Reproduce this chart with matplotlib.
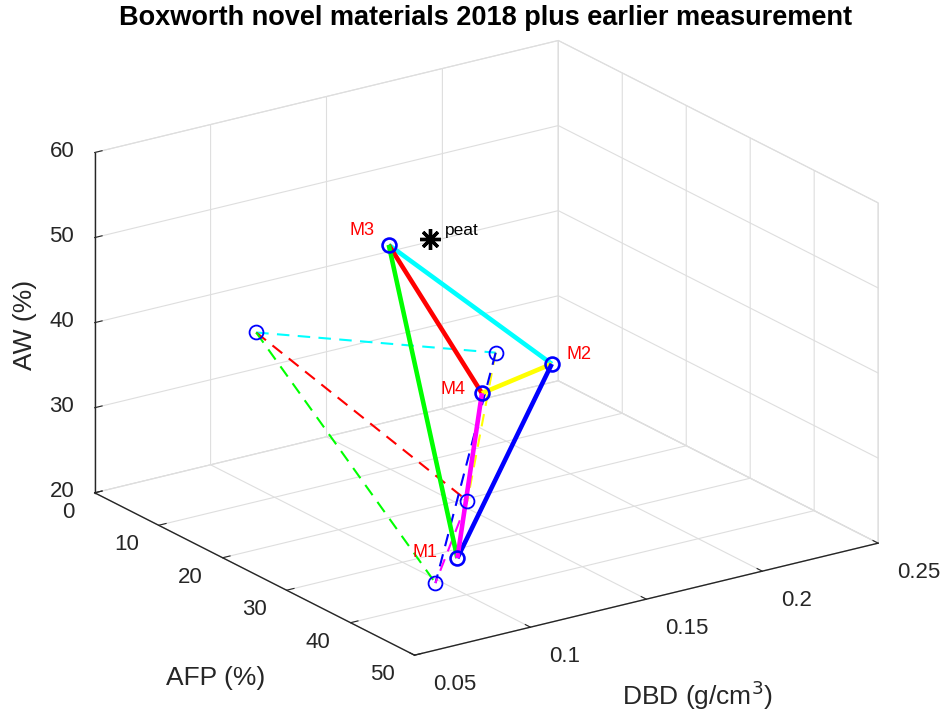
import matplotlib
matplotlib.use("Agg")
import matplotlib.pyplot as plt
import matplotlib.transforms as mtransforms

plt.rcParams['font.family'] = ['Liberation Sans', 'DejaVu Sans']

# materials, in order M1..M4
names = ['M1', 'M2', 'M3', 'M4']
afp_2018 = [42.2, 17.1, 20.6, 24.3]
dbd_2018 = [0.09, 0.20, 0.12, 0.15]
aw_2018 = [25.8, 31.8, 52.4, 34.4]

# earlier measurement of the same materials
afp_early = [42.4, 19.2, 18.0, 32.9]
dbd_early = [0.08, 0.17, 0.07, 0.12]
aw_early = [23.6, 35.9, 44.4, 27.0]

peat_afp = 19.8
peat_dbd = 0.14
peat_aw = 51.5

afp_ticks = [0, 10, 20, 30, 40, 50]
dbd_ticks = [0.05, 0.1, 0.15, 0.2, 0.25]
dbd_ticklabels = ['0.05', '0.1', '0.15', '0.2', '0.25']
aw_ticks = [20, 30, 40, 50, 60]

# tetrahedron edges (index pairs into the material lists) and their colours
edges = [(2, 1, '#00ffff'), (2, 3, '#ff0000'), (2, 0, '#00ff00'),
         (1, 3, '#ffff00'), (1, 0, '#0000ff'), (3, 0, '#ff00ff')]

# where each material label sits relative to its marker (pixels) and alignment
label_offsets = [(-20, 6, 'right'), (15, 9, 'left'), (-14, 14, 'right'), (-16, 4, 'right')]

axis_col = '#262626'
grid_col = '#dedede'

fig = plt.figure(figsize=(9.45, 7.15), dpi=100)
ax = fig.add_axes([0.1262, 0.0, 0.7566, 1.0], projection='3d', computed_zorder=False)
ax.set_proj_type('ortho')
ax.view_init(elev=20.5, azim=-34.6)
ax.set_box_aspect((1, 1, 0.645), zoom=1.1887)

ax.set_xlim(0, 50)
ax.set_ylim(0.05, 0.25)
ax.set_zlim(20, 60)
ax.set_xticks(afp_ticks)
ax.set_yticks(dbd_ticks)
ax.set_yticklabels(dbd_ticklabels)
ax.set_zticks(aw_ticks)
ax.zaxis.set_ticks_position('lower')

for axis in (ax.xaxis, ax.yaxis, ax.zaxis):
    axis.set_pane_color((1, 1, 1, 1))
    axis.pane.set_edgecolor(grid_col)
    axis.pane.set_linewidth(0.8)
    axis.line.set_color(axis_col)
    axis.line.set_linewidth(1.0)
    axis._axinfo['grid'].update(color=grid_col, linewidth=0.8)
    axis._axinfo['tick'].update(inward_factor=0.0, outward_factor=0.2)
    axis.offsetText.set_visible(False)
ax.tick_params(axis='both', labelsize=16, colors=axis_col)
ax.tick_params(axis='z', labelsize=16, colors=axis_col)
ax.yaxis.set_tick_params(pad=7.5)
ax.zaxis.set_tick_params(pad=-1)

for lab in ax.get_xticklabels():
    lab.set_ha('right')
    lab.set_va('center')
for lab in ax.get_yticklabels():
    lab.set_ha('left')
    lab.set_va('center')
for lab in ax.get_zticklabels():
    lab.set_ha('right')
    lab.set_va('center')

# earlier measurement: dashed edges, thin circles
for i, j, c in edges:
    ax.plot([afp_early[i], afp_early[j]], [dbd_early[i], dbd_early[j]],
            [aw_early[i], aw_early[j]], color=c, lw=1.5, dashes=(6, 4))

# 2018: solid thick edges
for i, j, c in edges:
    ax.plot([afp_2018[i], afp_2018[j]], [dbd_2018[i], dbd_2018[j]],
            [aw_2018[i], aw_2018[j]], color=c, lw=3.3, solid_capstyle='butt')

ax.plot(afp_early, dbd_early, aw_early, ls='none', marker='o', ms=10,
        mfc='none', mec='#0000ff', mew=1.3)
ax.plot(afp_2018, dbd_2018, aw_2018, ls='none', marker='o', ms=10,
        mfc='none', mec='#0000ff', mew=1.9)

for k, name in enumerate(names):
    dx, dy, ha = label_offsets[k]
    tr = mtransforms.offset_copy(ax.transData, fig=fig, x=dx, y=dy, units='dots')
    ax.text(afp_2018[k], dbd_2018[k], aw_2018[k], name, color='#ff0000', fontsize=13,
            ha=ha, va='center', transform=tr)

ax.plot([peat_afp], [peat_dbd], [peat_aw], ls='none', marker=(8, 2, 0), ms=15,
        mec='k', mew=2.4)
tr = mtransforms.offset_copy(ax.transData, fig=fig, x=15, y=8, units='dots')
ax.text(peat_afp, peat_dbd, peat_aw, 'peat', color='k', fontsize=12.5,
        ha='left', va='center', transform=tr)

fig.text(0.0265, 0.5455, 'AW (%)', rotation=90, fontsize=19, color=axis_col,
         ha='center', va='center')
fig.text(0.2286, 0.0517, 'AFP (%)', fontsize=19, color=axis_col,
         ha='center', va='center')
fig.text(0.7376, 0.028, 'DBD (g/cm$^3$)', fontsize=19, color=axis_col,
         ha='center', va='center')
fig.text(0.514, 0.975, 'Boxworth novel materials 2018 plus earlier measurement',
         fontsize=19.5, fontweight='bold', ha='center', va='center')

fig.savefig('out.png', dpi=100, facecolor='white')
